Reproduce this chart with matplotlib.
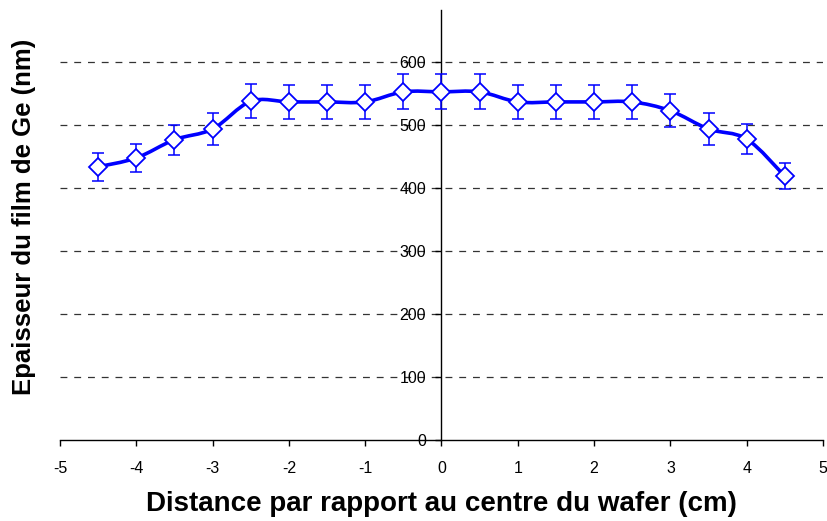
import matplotlib
matplotlib.use("Agg")
import matplotlib.pyplot as plt
import numpy as np
from matplotlib.path import Path
from matplotlib.patches import PathPatch

plt.rcParams['font.family'] = ['Liberation Sans', 'DejaVu Sans']

distance = [-4.5, -4.0, -3.5, -3.0, -2.5, -2.0, -1.5, -1.0, -0.5, 0.0,
            0.5, 1.0, 1.5, 2.0, 2.5, 3.0, 3.5, 4.0, 4.5]
epaisseur = [434, 448, 477, 494, 538, 537, 537, 537, 553, 553,
             553, 537, 537, 537, 537, 523, 494, 478, 419]
erreur = [22, 22, 24, 25, 27, 27, 27, 27, 28, 28,
          28, 27, 27, 27, 27, 26, 25, 24, 21]
x_ticks = [-5, -4, -3, -2, -1, 0, 1, 2, 3, 4, 5]
y_ticks = [0, 100, 200, 300, 400, 500, 600]

fig = plt.figure(figsize=(8.28, 5.21), dpi=100)
ax = fig.add_axes([60/828, 1-440/521, (823-60)/828, (440-10)/521])
ax.set_xlim(-5, 5)
ax.set_ylim(0, 683)

# dashed gridlines
for yv in y_ticks[1:]:
    ax.axhline(yv, color='#333333', lw=0.9, ls=(0, (5.5, 5.5)), zorder=1)

# smoothed line (Catmull-Rom -> cubic Bezier in data coords)
xs = np.array(distance, dtype=float)
ys = np.array(epaisseur, dtype=float)
verts = [(xs[0], ys[0])]
codes = [Path.MOVETO]
n = len(xs)
for i in range(n - 1):
    p0 = np.array([xs[max(i-1, 0)], ys[max(i-1, 0)]])
    p1 = np.array([xs[i], ys[i]])
    p2 = np.array([xs[i+1], ys[i+1]])
    p3 = np.array([xs[min(i+2, n-1)], ys[min(i+2, n-1)]])
    c1 = p1 + (p2 - p0) / 6.0
    c2 = p2 - (p3 - p1) / 6.0
    verts += [tuple(c1), tuple(c2), tuple(p2)]
    codes += [Path.CURVE4] * 3
ax.add_patch(PathPatch(Path(verts, codes), fill=False, edgecolor='#0000FF',
                       lw=2.6, zorder=3, capstyle='round', joinstyle='round'))

ax.errorbar(distance, epaisseur, yerr=erreur, fmt='none', ecolor='#0000FF',
            elinewidth=1.1, capsize=4, capthick=1.1, zorder=4)
ax.plot(distance, epaisseur, ls='none', marker='D', markersize=9,
        markerfacecolor='white', markeredgecolor='#0000FF',
        markeredgewidth=1.3, zorder=5)

ax.spines['top'].set_visible(False)
ax.spines['right'].set_visible(False)
ax.spines['left'].set_position(('data', 0))
ax.spines['left'].set_zorder(2)
ax.spines['left'].set_linewidth(1.0)
ax.spines['bottom'].set_linewidth(1.0)

ax.set_xticks(x_ticks)
ax.set_xticklabels([str(v) for v in x_ticks])
ax.set_yticks(y_ticks)
ax.set_yticklabels([str(v) for v in y_ticks])
ax.tick_params(axis='x', direction='out', length=4, width=1, labelsize=11.5, pad=11)
ax.tick_params(axis='y', direction='out', length=4, width=1, labelsize=11.5, pad=7)

ax.set_xlabel('Distance par rapport au centre du wafer (cm)', fontsize=20,
              fontweight='bold')
ax.xaxis.set_label_coords(0.5, -0.118)
ax.set_ylabel('Epaisseur du film de Ge (nm)', fontsize=18.5,
              fontweight='bold')
ax.yaxis.set_label_coords(-0.032, 0.52, transform=ax.transAxes)

fig.savefig('out.png', dpi=100)
